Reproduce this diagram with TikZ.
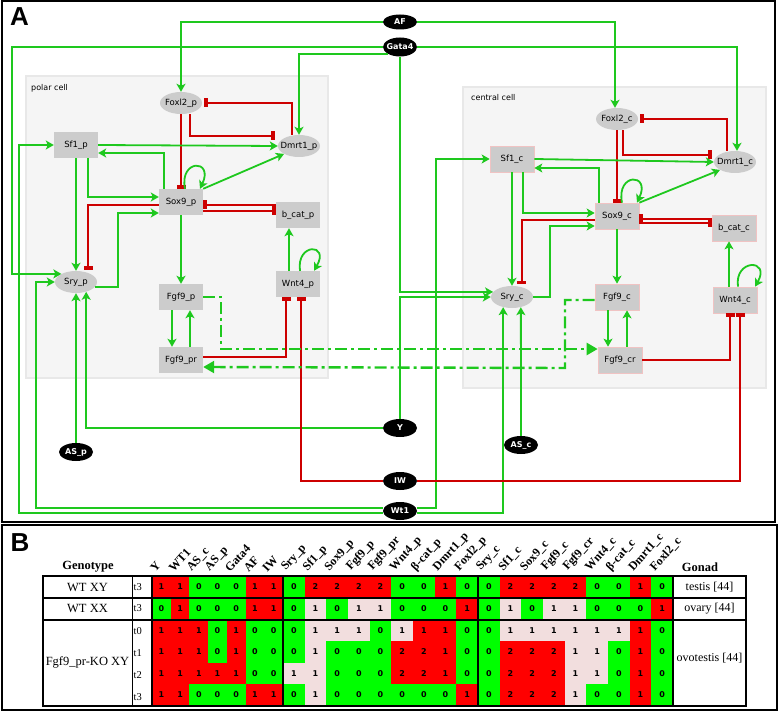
\documentclass[tikz,border=0pt]{standalone}
\usepackage{fontspec}
\setmainfont{Liberation Serif}
\newfontfamily\nodefont{DejaVu Sans}
\newfontfamily\letterfont{Liberation Sans}
\usetikzlibrary{arrows.meta,shapes.geometric}
\definecolor{lgreen}{RGB}{30,200,30}
\definecolor{lred}{RGB}{205,0,0}
\definecolor{ngray}{RGB}{204,204,204}
\definecolor{cellbg}{RGB}{245,245,245}
\definecolor{cellbd}{RGB}{232,232,232}
\definecolor{pinkedge}{RGB}{240,195,195}
\definecolor{cellr}{RGB}{255,0,0}
\definecolor{cellg}{RGB}{0,255,0}
\definecolor{cellp}{RGB}{242,222,222}
\newcommand\zw[1]{\makebox[0pt]{#1}}
\newcommand\mkcellrow[3]{%
  \foreach \v/\c [count=\i] in {#3}{%
    \pgfmathsetmacro\xa{\i<=7 ? 152+(\i-1)*18.7143 : (\i<=16 ? 283+(\i-8)*21.6667 : 478+(\i-17)*21.6667)}%
    \pgfmathsetmacro\w{\i<=7 ? 18.7143 : 21.6667}%
    \fill[cell\c] (\xa,#1) rectangle ++(\w+0.3,22);
    \node[celltxt] (cell-#2-\i) at (\xa+\w/2,#1+10.75) {\v};
  }}
\begin{document}
\begin{tikzpicture}[x=1pt,y=-1pt,
  gn/.style={ellipse,fill=ngray,minimum width=42pt,minimum height=22pt,inner sep=0pt,font=\nodefont\fontsize{8.5}{10}\selectfont},
  gb/.style={rectangle,fill=ngray,minimum width=44pt,minimum height=26pt,inner sep=0pt,font=\nodefont\fontsize{8.5}{10}\selectfont},
  gbc/.style={gb,draw=pinkedge,line width=0.7pt},
  inp/.style={ellipse,fill=black,text=white,minimum width=34pt,minimum height=18pt,inner sep=0pt,font=\nodefont\bfseries\fontsize{8}{9}\selectfont},
  act/.style={draw=lgreen,line width=1.8pt,-{Stealth[length=8pt,width=9pt,inset=2pt]}},
  inh/.style={draw=lred,line width=1.8pt,-{Rectangle[length=3.5pt,width=9pt]}},
  dd/.style={draw=lgreen,line width=2.4pt,dash pattern=on 12pt off 4pt on 3pt off 4pt,-{Triangle[length=11pt,width=12pt]}},
  cellbox/.style={fill=cellbg,draw=cellbd,line width=1.5pt},
  celltxt/.style={font=\nodefont\bfseries\fontsize{8}{9}\selectfont,inner sep=0pt},
  tl/.style={line width=2pt},
  hdr/.style={rotate=48,anchor=south west,inner sep=0pt,font=\bfseries\fontsize{12}{13}\selectfont},
  gt/.style={font=\fontsize{12.5}{15}\selectfont,inner sep=0pt},
  gont/.style={font=\fontsize{12}{14}\selectfont,inner sep=0pt},
  tt/.style={font=\fontsize{10.5}{12}\selectfont,inner sep=0pt,anchor=west},
  lbl/.style={font=\nodefont\fontsize{8}{9}\selectfont,anchor=west,inner sep=0pt}
]
\useasboundingbox (0,0) rectangle (778,711);
% frames
\draw[line width=2pt] (1.5,1.5) rectangle (774.5,521.5);
\draw[line width=2pt] (1.5,524.5) rectangle (776.5,709.5);
\node[font=\letterfont\bfseries\fontsize{26}{26}\selectfont,inner sep=0pt] (lettA) at (19.5,16.5) {A};
\node[font=\letterfont\bfseries\fontsize{26}{26}\selectfont,inner sep=0pt] (lettB) at (20,542.5) {B};
% cell boxes
\draw[cellbox] (26,76) rectangle (328,378);
\node[lbl] (polarlbl) at (31,88) {polar cell};
\draw[cellbox] (463,87) rectangle (766,388);
\node[lbl] (centrallbl) at (471,98) {central cell};
% polar nodes
\node[gn] (Foxl2p) at (181,103) {\zw{Foxl2\_p}};
\node[gn] (Dmrt1p) at (299,146) {\zw{Dmrt1\_p}};
\node[gb] (Sf1p) at (76,145) {Sf1\_p};
\node[gb] (Sox9p) at (181,202) {Sox9\_p};
\node[gb] (bcatp) at (298,215) {b\_cat\_p};
\node[gn] (Sryp) at (76,282) {\zw{Sry\_p}};
\node[gb] (Fgf9p) at (181,297) {Fgf9\_p};
\node[gb] (Wnt4p) at (298,284) {Wnt4\_p};
\node[gb] (Fgf9pr) at (181,360) {Fgf9\_pr};
% central nodes
\node[gn] (Foxl2c) at (617,119) {\zw{Foxl2\_c}};
\node[gn] (Dmrt1c) at (735,162) {\zw{Dmrt1\_c}};
\node[gbc] (Sf1c) at (512,159) {Sf1\_c};
\node[gbc] (Sox9c) at (617,216) {Sox9\_c};
\node[gbc] (bcatc) at (734,228) {b\_cat\_c};
\node[gn] (Sryc) at (512,297) {\zw{Sry\_c}};
\node[gbc] (Fgf9c) at (617,297) {Fgf9\_c};
\node[gbc] (Wnt4c) at (735,300) {Wnt4\_c};
\node[gbc] (Fgf9cr) at (620,360) {Fgf9\_cr};
% inputs
\node[inp,minimum height=15pt] (AF) at (400,22) {\zw{AF}};
\node[inp,minimum height=19pt] (Gata4) at (400,47) {\zw{Gata4}};
\node[inp] (Y) at (400,428) {\zw{Y}};
\node[inp] (IW) at (400,481) {\zw{IW}};
\node[inp] (Wt1) at (400,511) {\zw{Wt1}};
\node[inp] (ASp) at (76,452) {\zw{AS\_p}};
\node[inp] (ASc) at (521,445) {\zw{AS\_c}};
% input edges
\draw[act] (AF.west) -| (Foxl2p.north);
\draw[act] (AF.east) -| ([xshift=-2pt]Foxl2c.north);
\draw[act] (Gata4.west) -| (12,200) |- (Sryp.151);
\draw[act] (Gata4.south west) -| (Dmrt1p.north);
\draw[act] (Gata4.east) -| ([xshift=2pt]Dmrt1c.north);
\draw[act] (Gata4.south) |- (Sryc.165);
\draw[act] (Y.north) |- (Sryc.west);
\draw[act] (Y.west) -| (Sryp.-44);
\draw[act] (ASp.north) -- (Sryp.south);
\draw[act] (ASc.north) -- (Sryc.-49);
\draw[act] ([yshift=-2pt]Wt1.east) -| (Sryc.-131);
\draw[act] ([yshift=3pt]Wt1.east) -| (436,300) |- (Sf1c.west);
\draw[act] ([yshift=3pt]Wt1.west) -| (36,400) |- (Sryp.west);
\draw[act] ([yshift=-2pt]Wt1.west) -| (19,400) |- (Sf1p.west);
\draw[inh] (IW.west) -| ([xshift=3pt]Wnt4p.south);
\draw[inh] (IW.east) -| ([xshift=5pt]Wnt4c.south);
% polar edges
\draw[inh] (Foxl2p.south) -- (Sox9p.north);
\draw[inh] ([xshift=9pt]Foxl2p.south) |- ([xshift=-3pt,yshift=10pt]Dmrt1p.west);
\draw[inh] ([xshift=-7pt]Dmrt1p.north) |- ([xshift=2pt]Foxl2p.east);
\draw[act] (Sf1p.east) -- (Dmrt1p.west);
\draw[act] ([xshift=-17pt]Sox9p.north) |- ([yshift=-8pt]Sf1p.east);
\draw[act] ([xshift=12pt]Sf1p.south) |- ([yshift=5pt]Sox9p.west);
\draw[act] (Sox9p.north east) -- (Dmrt1p.south west);
\draw[act] (Sf1p.south) -- (Sryp.north);
\draw[inh] ([yshift=-3pt]Sox9p.west) -| ([yshift=3pt]Sryp.37);
\draw[act] (Sryp.-15) -| (118,250) |- ([yshift=-11pt]Sox9p.west);
\draw[inh] ([yshift=10pt]bcatp.west) -- ([yshift=-3pt]Sox9p.east);
\draw[inh] ([yshift=-9pt]Sox9p.east) -- ([yshift=4pt]bcatp.west);
\draw[act] ([xshift=4pt]Sox9p.north) .. controls +(-6,-30) and +(14,-30) .. ([xshift=19pt]Sox9p.north);
\draw[act] (Sox9p.south) -- (Fgf9p.north);
\draw[act] (289,0 |- Wnt4p.north) -- (289,0 |- bcatp.south);
\draw[act] ([xshift=2pt]Wnt4p.north) .. controls +(-4,-28) and +(16,-28) .. ([xshift=16pt]Wnt4p.north);
\draw[act] ([xshift=-9pt]Fgf9p.south) -- ([xshift=-9pt]Fgf9pr.north);
\draw[act] ([xshift=9pt]Fgf9pr.north) -- ([xshift=9pt]Fgf9p.south);
\draw[inh] ([yshift=3pt]Fgf9pr.east) -| ([xshift=-12pt]Wnt4p.south);
\draw[dd] (Fgf9p.east) -| (221,349) -- ([yshift=11pt]Fgf9cr.west);
\draw[dd] ([yshift=-3pt]Fgf9c.west) -| (565,368) -- ([yshift=-7pt]Fgf9pr.east);
% central edges
\draw[inh] (Foxl2c.south) -- (Sox9c.north);
\draw[inh] ([xshift=6pt]Foxl2c.south) |- ([xshift=-2pt,yshift=7pt]Dmrt1c.west);
\draw[inh] ([xshift=-8pt]Dmrt1c.north) |- ([xshift=2pt]Foxl2c.east);
\draw[act] (Sf1c.east) -- (Dmrt1c.west);
\draw[act] ([xshift=-18pt]Sox9c.north) |- ([yshift=-9pt]Sf1c.east);
\draw[act] ([xshift=11pt]Sf1c.south) |- ([yshift=3pt]Sox9c.west);
\draw[act] (Sox9c.north east) -- (Dmrt1c.south west);
\draw[act] (Sf1c.south) -- (Sryc.north);
\draw[inh] ([yshift=-4pt]Sox9c.west) -| ([yshift=3pt]Sryc.45);
\draw[act] (Sryc.east) -| (550,260) |- ([yshift=-10pt]Sox9c.west);
\draw[inh] ([yshift=9pt]bcatc.west) -- ([yshift=-3pt]Sox9c.east);
\draw[inh] ([yshift=-7pt]Sox9c.east) -- ([yshift=5pt]bcatc.west);
\draw[act] ([xshift=5pt]Sox9c.north) .. controls +(-6,-30) and +(14,-30) .. ([xshift=20pt]Sox9c.north);
\draw[act] (Sox9c.south) -- (Fgf9c.north);
\draw[act] (729,0 |- Wnt4c.north) -- (729,0 |- bcatc.south);
\draw[act] ([xshift=3pt]Wnt4c.north) .. controls +(-4,-28) and +(16,-28) .. ([xshift=20pt]Wnt4c.north);
\draw[act] (608,0 |- Fgf9c.south) -- (608,0 |- Fgf9cr.north);
\draw[act] (627,0 |- Fgf9cr.north) -- (627,0 |- Fgf9c.south);
\draw[inh] (Fgf9cr.east) -| ([xshift=-5pt]Wnt4c.south);
% ---------- panel B ----------
\node[font=\bfseries\fontsize{12.5}{14}\selectfont,inner sep=0pt] (genohdr) at (88,567) {Genotype};
\node[font=\bfseries\fontsize{12.5}{14}\selectfont,inner sep=0pt] (gonadhdr) at (700,567) {Gonad};
\foreach \t [count=\i] in {Y,WT1,AS\_c,AS\_p,Gata4,AF,IW,Sry\_p,Sf1\_p,Sox9\_p,Fgf9\_p,Fgf9\_pr,Wnt4\_p,β-cat\_p,Dmrt1\_p,Foxl2\_p,Sry\_c,Sf1\_c,Sox9\_c,Fgf9\_c,Fgf9\_cr,Wnt4\_c,β-cat\_c,Dmrt1\_c,Foxl2\_c}{%
  \pgfmathsetmacro\xa{\i<=7 ? 152+(\i-1)*18.7143 : (\i<=16 ? 283+(\i-8)*21.6667 : 478+(\i-17)*21.6667)}%
  \pgfmathsetmacro\w{\i<=7 ? 18.7143 : 21.6667}%
  \node[hdr] (hdr\i) at (\xa+\w/2-6,573) {\t};
}
\mkcellrow{576}{a}{1/r,1/r,0/g,0/g,0/g,1/r,1/r,0/g,2/r,2/r,2/r,2/r,0/g,0/g,1/r,0/g,0/g,2/r,2/r,2/r,2/r,0/g,0/g,1/r,0/g}
\mkcellrow{597.5}{b}{0/g,1/r,0/g,0/g,0/g,1/r,1/r,0/g,1/p,0/g,1/p,1/p,0/g,0/g,0/g,1/r,0/g,1/p,0/g,1/p,1/p,0/g,0/g,0/g,1/r}
\mkcellrow{619.5}{c}{1/r,1/r,1/r,0/g,1/r,0/g,0/g,0/g,1/p,1/p,1/p,0/g,1/p,1/r,1/r,0/g,0/g,1/p,1/p,1/p,1/p,1/p,1/p,1/r,0/g}
\mkcellrow{641}{d}{1/r,1/r,1/r,0/g,1/r,0/g,0/g,0/g,1/p,0/g,0/g,0/g,2/r,2/r,1/r,0/g,0/g,2/r,2/r,2/r,1/p,1/p,0/g,1/r,0/g}
\mkcellrow{662.5}{e}{1/r,1/r,1/r,1/r,1/r,0/g,0/g,1/p,1/p,0/g,0/g,0/g,2/r,2/r,1/r,0/g,0/g,2/r,2/r,2/r,1/p,1/p,0/g,1/r,0/g}
\mkcellrow{684}{f}{1/r,1/r,0/g,0/g,0/g,1/r,1/r,0/g,1/p,0/g,0/g,0/g,0/g,0/g,0/g,1/r,0/g,2/r,2/r,2/r,1/p,0/g,0/g,1/r,0/g}
\fill[white] (43,705.5) rectangle (746,708);
% table lines
\draw[tl] (43,576) rectangle (746,705.5);
\draw[tl] (43,597.5) -- (746,597.5);
\draw[tl] (43,619.5) -- (746,619.5);
\draw[line width=1pt] (132,576) -- (132,705.5);
\draw[tl] (152,576) -- (152,705.5);
\draw[tl] (283,576) -- (283,705.5);
\draw[tl] (478,576) -- (478,705.5);
\draw[tl] (673,576) -- (673,705.5);
% genotype, time, gonad labels
\node[gt] (gen1) at (87.5,587) {WT XY};
\node[gt] (gen2) at (87.5,608.5) {WT XX};
\node[gt] (gen3) at (87.5,662.5) {Fgf9\_pr-KO XY};
\node[tt] (tm1) at (133.5,587) {t3};
\node[tt] (tm2) at (133.5,608.5) {t3};
\node[tt] (tm3) at (133.5,631) {t0};
\node[tt] (tm4) at (133.5,653) {t1};
\node[tt] (tm5) at (133.5,675) {t2};
\node[tt] (tm6) at (133.5,697) {t3};
\node[gont] (gon1) at (709.5,587) {testis [44]};
\node[gont] (gon2) at (709.5,608.5) {ovary [44]};
\node[gont] (gon3) at (709.5,658) {ovotestis [44]};
\end{tikzpicture}
\end{document}
